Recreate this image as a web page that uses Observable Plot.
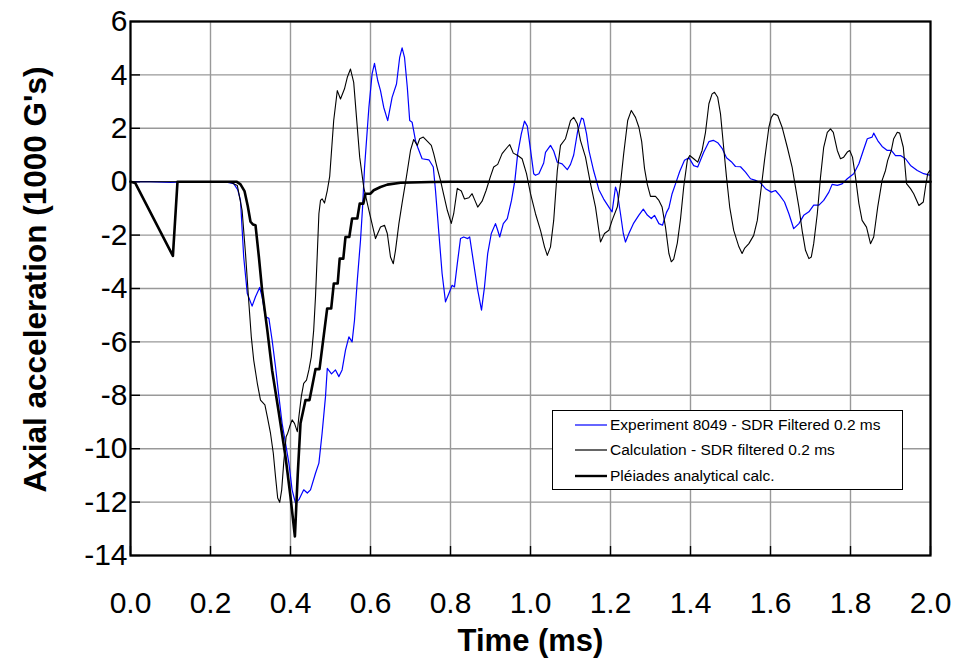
<!DOCTYPE html>
<html>
<head>
<meta charset="utf-8">
<script src="https://cdn.jsdelivr.net/npm/d3@7"></script>
<script src="https://cdn.jsdelivr.net/npm/@observablehq/plot@0.6"></script>
<style>
  html, body { margin: 0; padding: 0; background: #fff; }
  #wrap { position: relative; width: 957px; height: 661px; font-family: "Liberation Sans", Arial, sans-serif; }
  #legend {
    position: absolute; left: 552px; top: 410px; width: 351px; height: 80px;
    box-sizing: border-box; border: 1px solid #000; background: #fff;
    font-size: 15.5px; color: #000;
  }
  #legend .row { position: absolute; left: 0; height: 20px; display: flex; align-items: center; }
  #legend svg { margin-left: 22px; margin-right: 3px; display: block; }
</style>
</head>
<body>
<div id="wrap"></div>
<script>
// Axial acceleration (1000 G's) against time (ms)
const xTicks = [0, 0.2, 0.4, 0.6, 0.8, 1.0, 1.2, 1.4, 1.6, 1.8, 2.0];
const yTicks = [-14, -12, -10, -8, -6, -4, -2, 0, 2, 4, 6];

const seriesNames = [
  "Experiment 8049 - SDR Filtered 0.2 ms",
  "Calculation - SDR filtered 0.2 ms",
  "Pléiades analytical calc."
];

// [time (ms), acceleration (1000 G's)]
const experiment8049 = [
[0,0],[0.05,0],[0.1,-0.03],[0.15,0],[0.2,0],[0.24,-0.02],[0.258,-0.07],[0.268,-0.3],[0.275,-0.7],[0.283,-2.82],[0.292,-4.19],[0.304,-4.66],[0.3125,-4.31],[0.323,-3.96],[0.329,-4.31],[0.3375,-5.06],[0.346,-5.12],[0.354,-5.93],[0.3625,-6.93],[0.371,-8.05],[0.379,-9.05],[0.3875,-9.79],[0.396,-10.54],[0.404,-11.54],[0.4125,-12.04],[0.421,-11.91],[0.433,-11.54],[0.442,-11.66],[0.45,-11.54],[0.4625,-10.92],[0.471,-10.54],[0.479,-9.42],[0.4875,-8.05],[0.492,-6.99],[0.5025,-7.2],[0.5125,-7.05],[0.521,-7.3],[0.529,-7.05],[0.5375,-6.31],[0.546,-5.81],[0.554,-6.0],[0.56,-5.19],[0.567,-3.69],[0.575,-2.2],[0.58,-1.0],[0.585,0.5],[0.596,2.79],[0.604,4.04],[0.61,4.43],[0.618,3.79],[0.625,3.41],[0.633,2.79],[0.643,2.29],[0.654,3.16],[0.665,3.66],[0.673,4.66],[0.679,5.01],[0.685,4.66],[0.692,3.54],[0.698,2.29],[0.704,2.23],[0.7125,1.54],[0.718,1.29],[0.729,0.86],[0.746,0.82],[0.757,0.55],[0.7625,-0.33],[0.771,-1.94],[0.779,-3.44],[0.7875,-4.5],[0.796,-4.19],[0.804,-3.88],[0.81,-3.94],[0.817,-3.07],[0.825,-2.13],[0.833,-2.07],[0.843,-2.13],[0.848,-2.07],[0.858,-3.07],[0.868,-4.06],[0.8775,-4.81],[0.885,-3.94],[0.893,-2.69],[0.902,-1.94],[0.9125,-1.57],[0.918,-1.82],[0.923,-2.07],[0.932,-1.57],[0.942,-1.38],[0.9525,-0.7],[0.961,0.05],[0.968,1.05],[0.977,1.79],[0.985,2.27],[0.992,2.08],[1.0,1.2],[1.008,0.3],[1.0125,0.24],[1.021,0.3],[1.033,0.7],[1.0375,1.1],[1.05,1.36],[1.058,1.15],[1.067,0.73],[1.079,0.67],[1.092,0.45],[1.1,0.65],[1.108,1.0],[1.118,1.9],[1.1275,2.38],[1.132,2.35],[1.14,1.8],[1.146,1.17],[1.158,0.4],[1.171,-0.3],[1.183,-0.65],[1.198,-1.0],[1.204,-1.13],[1.2125,-0.2],[1.217,-0.4],[1.225,-1.2],[1.232,-1.94],[1.2375,-2.26],[1.246,-1.94],[1.258,-1.55],[1.271,-1.25],[1.282,-1.03],[1.292,-1.25],[1.302,-1.38],[1.31,-1.26],[1.321,-1.57],[1.33,-1.63],[1.34,-1.15],[1.346,-0.98],[1.354,-0.45],[1.3625,-0.08],[1.373,0.38],[1.385,0.8],[1.396,0.9],[1.408,0.6],[1.418,0.55],[1.433,1.1],[1.446,1.5],[1.457,1.55],[1.468,1.46],[1.479,1.25],[1.49,0.9],[1.502,0.75],[1.5125,0.57],[1.525,0.56],[1.5375,0.36],[1.55,0.11],[1.5625,0.05],[1.575,-0.05],[1.5875,-0.26],[1.602,-0.39],[1.6125,-0.33],[1.623,-0.51],[1.635,-0.76],[1.646,-1.2],[1.658,-1.76],[1.671,-1.57],[1.683,-1.26],[1.696,-1.13],[1.708,-0.88],[1.721,-0.88],[1.733,-0.7],[1.746,-0.39],[1.754,-0.1],[1.767,-0.14],[1.779,-0.08],[1.792,0.11],[1.808,0.3],[1.821,0.67],[1.832,1.17],[1.842,1.61],[1.854,1.67],[1.858,1.82],[1.868,1.54],[1.879,1.32],[1.892,1.17],[1.902,1.17],[1.9125,0.98],[1.925,0.98],[1.9375,0.86],[1.95,0.61],[1.967,0.42],[1.983,0.3],[2.0,0.24]
];

const calculationSDR = [
[0,0],[0.1,0],[0.2,0],[0.24,0],[0.254,-0.05],[0.267,-0.14],[0.279,-1.07],[0.2875,-2.69],[0.296,-4.56],[0.302,-5.81],[0.308,-6.68],[0.317,-7.55],[0.325,-8.18],[0.336,-8.36],[0.342,-8.8],[0.35,-9.42],[0.357,-10.17],[0.3625,-11.04],[0.368,-11.85],[0.373,-12.01],[0.378,-11.54],[0.383,-10.54],[0.389,-9.55],[0.393,-9.42],[0.398,-9.17],[0.404,-8.92],[0.41,-9.05],[0.417,-9.36],[0.421,-8.8],[0.427,-8.05],[0.433,-7.55],[0.44,-7.43],[0.446,-7.05],[0.452,-6.56],[0.458,-5.56],[0.4625,-4.31],[0.467,-2.69],[0.471,-1.2],[0.475,-0.7],[0.479,-0.64],[0.485,-0.8],[0.492,-0.33],[0.498,0.2],[0.508,2.29],[0.517,3.41],[0.525,3.1],[0.535,3.48],[0.542,3.91],[0.55,4.22],[0.558,3.72],[0.565,2.41],[0.573,0.92],[0.583,-0.2],[0.596,-1.07],[0.6125,-2.13],[0.625,-1.7],[0.635,-1.63],[0.642,-1.94],[0.65,-2.82],[0.657,-3.07],[0.6625,-2.57],[0.671,-1.57],[0.679,-0.8],[0.69,0.2],[0.7,1.17],[0.708,1.58],[0.717,1.36],[0.723,1.61],[0.732,1.67],[0.743,1.5],[0.752,1.36],[0.758,1.05],[0.767,0.5],[0.775,0.05],[0.783,-0.48],[0.792,-1.07],[0.802,-1.56],[0.808,-1.2],[0.817,-0.25],[0.827,-0.35],[0.835,-0.65],[0.846,-0.6],[0.854,-0.45],[0.861,-0.7],[0.868,-0.95],[0.879,-0.73],[0.889,-0.33],[0.9,0.2],[0.908,0.55],[0.918,0.65],[0.929,1.05],[0.942,1.29],[0.948,1.39],[0.957,1.07],[0.968,0.98],[0.979,0.86],[0.99,0.3],[1.0,-0.45],[1.0125,-1.2],[1.025,-1.82],[1.035,-2.44],[1.042,-2.76],[1.05,-2.44],[1.058,-1.45],[1.067,0.42],[1.075,1.36],[1.0875,1.61],[1.1,2.29],[1.108,2.41],[1.117,2.17],[1.125,1.54],[1.1375,0.92],[1.15,-0.07],[1.1625,-0.95],[1.175,-2.26],[1.185,-1.94],[1.196,-1.82],[1.204,-1.45],[1.217,-0.95],[1.225,-0.07],[1.233,1.05],[1.243,2.29],[1.252,2.67],[1.2625,2.41],[1.271,2.04],[1.278,1.5],[1.285,0.5],[1.292,-0.1],[1.3,-0.55],[1.3125,-0.55],[1.321,-0.7],[1.329,-0.95],[1.3375,-1.7],[1.346,-2.69],[1.352,-3.0],[1.358,-2.9],[1.367,-2.3],[1.375,-1.4],[1.383,-0.2],[1.392,0.8],[1.398,0.98],[1.408,0.86],[1.418,0.73],[1.429,1.17],[1.4375,1.85],[1.446,2.92],[1.454,3.29],[1.46,3.35],[1.468,3.16],[1.475,2.54],[1.482,1.42],[1.49,0.17],[1.498,-0.95],[1.508,-1.82],[1.521,-2.44],[1.529,-2.69],[1.535,-2.5],[1.546,-2.32],[1.558,-2.01],[1.567,-1.45],[1.575,-0.45],[1.585,0.8],[1.596,2.04],[1.602,2.41],[1.608,2.54],[1.618,2.48],[1.629,2.04],[1.642,1.29],[1.654,0.55],[1.6625,-0.2],[1.671,-0.95],[1.679,-1.82],[1.6875,-2.57],[1.696,-2.88],[1.702,-2.82],[1.708,-2.32],[1.717,-1.2],[1.725,0.17],[1.733,1.29],[1.742,1.85],[1.75,1.98],[1.757,1.85],[1.767,1.17],[1.775,0.86],[1.783,0.92],[1.792,1.11],[1.798,1.17],[1.805,0.92],[1.8125,0.17],[1.821,-0.82],[1.829,-1.45],[1.84,-1.7],[1.85,-2.32],[1.858,-2.07],[1.868,-0.95],[1.879,0.05],[1.8875,0.42],[1.893,0.8],[1.902,1.17],[1.908,1.61],[1.917,1.85],[1.923,1.82],[1.932,1.29],[1.94,-0.07],[1.95,-0.26],[1.958,-0.45],[1.971,-0.89],[1.982,-0.76],[1.9875,-0.2],[1.993,0.3],[1.998,0.42],[2.0,0.35]
];

const pleiadesAnalytical = [
[0,0],[0.012,-0.05],[0.106,-2.78],[0.1175,0],[0.265,0],[0.275,-0.1],[0.285,-0.35],[0.293,-0.9],[0.3,-1.5],[0.306,-1.6],[0.3125,-1.63],[0.321,-2.82],[0.329,-4.06],[0.342,-5.56],[0.354,-7.06],[0.371,-8.67],[0.3875,-10.3],[0.4,-11.8],[0.411,-13.29],[0.418,-11.0],[0.425,-9.05],[0.4375,-8.18],[0.4475,-8.18],[0.4625,-7.02],[0.4725,-7.02],[0.4917,-4.75],[0.5017,-4.75],[0.5083,-3.81],[0.518,-3.81],[0.523,-2.88],[0.532,-2.88],[0.5375,-2.07],[0.547,-2.07],[0.554,-1.38],[0.567,-1.38],[0.573,-0.82],[0.582,-0.82],[0.5875,-0.45],[0.6,-0.45],[0.608,-0.32],[0.625,-0.2],[0.642,-0.11],[0.675,-0.04],[0.75,-0.01],[0.8,0],[2.0,0]
];

const seriesColors = ["#0000ff", "#000000", "#000000"];
const seriesWidths = [1.2, 1.1, 2.6];
const seriesData = [experiment8049, calculationSDR, pleiadesAnalytical];

const font = "'Liberation Sans', Arial, sans-serif";

const chart = Plot.plot({
  width: 957,
  height: 661,
  marginLeft: 130,
  marginRight: 27,
  marginTop: 21,
  marginBottom: 106,
  style: { fontFamily: font, background: "#fff", overflow: "visible" },
  x: { domain: [0, 2] },
  y: { domain: [-14, 6] },
  marks: [
    Plot.gridX(xTicks, { stroke: "#999", strokeOpacity: 1, strokeWidth: 1.4 }),
    Plot.gridY(yTicks, { stroke: "#999", strokeOpacity: 1, strokeWidth: 1.4 }),
    // inward tick marks
    Plot.axisX(xTicks, { tickSize: -9, text: null, stroke: "#000", strokeWidth: 1.4 }),
    Plot.axisY(yTicks, { tickSize: -10, text: null, stroke: "#000", strokeWidth: 1.4 }),
    // tick labels
    Plot.axisX(xTicks, { tickSize: 0, tickPadding: 36, fontSize: 30, fill: "#000", tickFormat: d => d.toFixed(1), label: null }),
    Plot.axisY(yTicks, { tickSize: 0, tickPadding: 3, fontSize: 30, fill: "#000", tickFormat: d => String(d), label: null }),
    // data series
    ...seriesData.map((data, i) =>
      Plot.line(data, { x: d => d[0], y: d => d[1], stroke: seriesColors[i], strokeWidth: seriesWidths[i], strokeLinejoin: "round" })
    ),
    Plot.frame({ stroke: "#000", strokeWidth: 2.2 }),
    // axis titles
    Plot.text(["Time (ms)"], { frameAnchor: "bottom", dy: 95, fontSize: 31, fontWeight: "bold", fill: "#000" }),
    Plot.text(["Axial acceleration (1000 G's)"], { frameAnchor: "left", textAnchor: "middle", dx: -95, dy: -9, rotate: -90, fontSize: 31.5, fontWeight: "bold", fill: "#000" })
  ]
});

const wrap = document.getElementById("wrap");
wrap.appendChild(chart);

// legend box inside the plot area
const legend = d3.select(wrap).append("div").attr("id", "legend");
const rowTops = [4, 29, 55];
seriesNames.forEach((name, i) => {
  const row = legend.append("div").attr("class", "row").style("top", rowTops[i] + "px");
  const sw = row.append("svg").attr("width", 32).attr("height", 20);
  sw.append("line")
    .attr("x1", 0).attr("x2", 32).attr("y1", 10).attr("y2", 10)
    .attr("stroke", seriesColors[i])
    .attr("stroke-width", i === 2 ? 2.4 : 1.2);
  row.append("span").text(name);
});
</script>
</body>
</html>
